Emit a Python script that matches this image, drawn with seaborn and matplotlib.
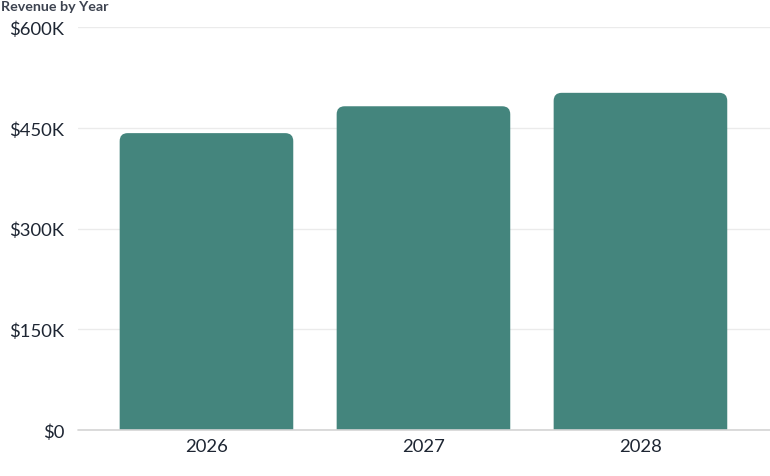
import numpy as np
import pandas as pd
import matplotlib
matplotlib.use("Agg")
import matplotlib.pyplot as plt
import seaborn as sns
from matplotlib.patches import FancyBboxPatch
from matplotlib.ticker import FuncFormatter

years = ["2026", "2027", "2028"]
revenue = [442000, 482000, 502000]
yticks = [0, 150000, 300000, 450000, 600000]

sns.set_theme(style="white")
plt.rcParams['font.family'] = ['Lato', 'DejaVu Sans']

bar_color = "#44857d"
text_color = "#1e2633"

fig = plt.figure(figsize=(7.7, 4.77), dpi=100)
ax = fig.add_axes([78/770, 1-431/477, 1-78/770, (431-28)/477])

df = pd.DataFrame({"year": years, "revenue": revenue})
sns.barplot(data=df, x="year", y="revenue", color=bar_color, width=0.8,
            saturation=1, ax=ax, zorder=3)

ax.set_ylim(0, 600000)
ax.set_xlim(-0.592, 2.597)
ax.set_yticks(yticks)
ax.yaxis.set_major_formatter(FuncFormatter(lambda v, p: "$0" if v == 0 else f"${int(v/1000)}K"))
ax.set_xlabel("")
ax.set_ylabel("")
for s in ax.spines.values():
    s.set_visible(False)
ax.grid(axis="y", color="#ebebeb", linewidth=1, zorder=0)
ax.axhline(0, color="#d4d4d4", linewidth=1.2, zorder=4, clip_on=False)
ax.tick_params(axis="both", length=0, labelsize=13.3, labelcolor=text_color)
ax.tick_params(axis="y", pad=10)
ax.tick_params(axis="x", pad=6)

fig.canvas.draw()
# convert rounded corners to data units
px_x = (ax.transData.inverted().transform((1, 0))[0] - ax.transData.inverted().transform((0, 0))[0])
px_y = (ax.transData.inverted().transform((0, 1))[1] - ax.transData.inverted().transform((0, 0))[1])
r_px = 8
aspect = px_y / px_x
for p in list(ax.patches):
    x0, y0 = p.get_x(), p.get_y()
    w, h = p.get_width(), p.get_height()
    p.set_visible(False)
    extra = r_px * 2 * px_y
    fb = FancyBboxPatch((x0, y0 - extra), w, h + extra,
                        boxstyle=f"round,pad=0,rounding_size={r_px*px_x}",
                        mutation_aspect=aspect,
                        facecolor=bar_color, edgecolor="none", zorder=3)
    ax.add_patch(fb)

fig.text(1/770, 1-1/477, "Revenue by Year", ha="left", va="top",
         fontsize=10.3, fontweight="bold", color="#3d4350")

fig.savefig("out.png", dpi=100)
